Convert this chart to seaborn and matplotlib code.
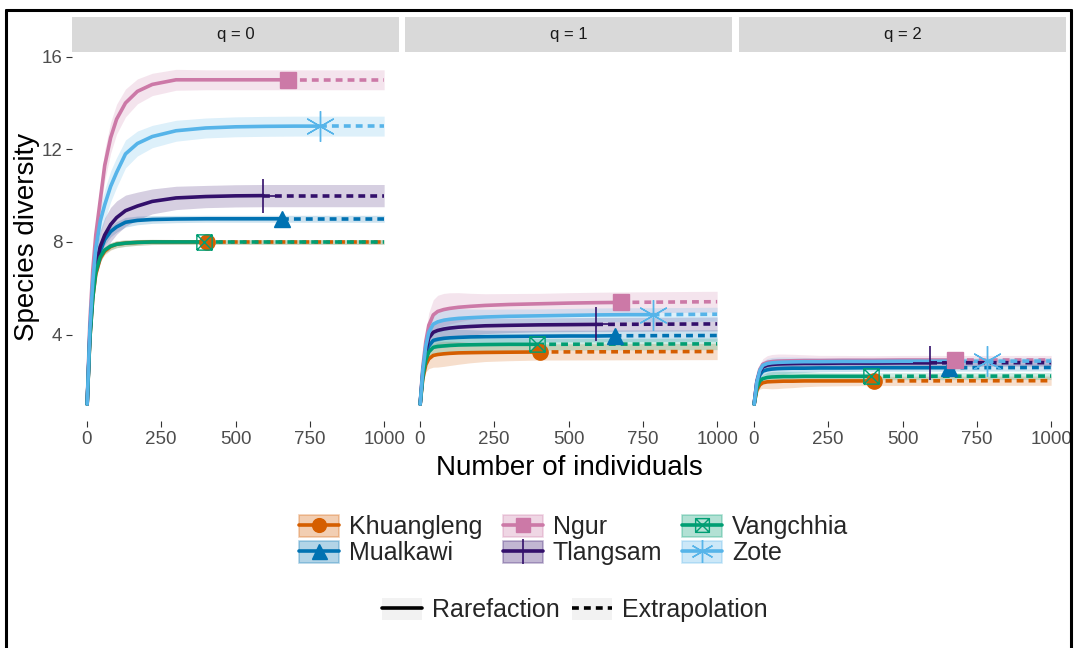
import matplotlib
matplotlib.use("Agg")
import numpy as np
import pandas as pd
import seaborn as sns
import matplotlib.pyplot as plt
from matplotlib.path import Path
from matplotlib.patches import Patch
from matplotlib.lines import Line2D
from matplotlib.legend_handler import HandlerTuple
from matplotlib import font_manager as fm

# ---------------------------------------------------------------- data
sites = ["Khuangleng", "Mualkawi", "Ngur", "Tlangsam", "Vangchhia", "Zote"]
colors = ["#D55E00", "#0072B2", "#CC79A7", "#33106B", "#009E73", "#56B4E9"]
obs_size = [403, 655, 675, 593, 395, 783]          # reference sample size
n_grid = [1, 10, 20, 30, 45, 60, 80, 100, 130, 170, 220, 300, 400, 500, 600, 700, 800]
n_max = 1000
q_levels = [0, 1, 2]

# rarefied diversity at n_grid points (below the reference sample size)
rare_q0 = {
    "Khuangleng": [1, 3.8, 5.6, 6.6, 7.3, 7.6, 7.8, 7.9, 7.95, 7.98, 8.0, 8.0, 8.0],
    "Mualkawi":   [1, 3.9, 5.8, 6.9, 7.6, 8.1, 8.45, 8.65, 8.85, 8.93, 8.97, 8.99, 9.0, 9.0, 9.0],
    "Ngur":       [1, 4.5, 6.8, 8.3, 9.8, 11.3, 12.5, 13.3, 14.0, 14.5, 14.8, 15.0, 15.0, 15.0, 15.0],
    "Tlangsam":   [1, 4.0, 5.9, 7.0, 7.8, 8.3, 8.75, 9.05, 9.35, 9.55, 9.75, 9.9, 9.96, 9.99],
    "Vangchhia":  [1, 3.8, 5.6, 6.7, 7.35, 7.65, 7.82, 7.9, 7.95, 7.98, 8.0, 8.0],
    "Zote":       [1, 4.2, 6.3, 7.7, 8.9, 9.6, 10.4, 11.0, 11.8, 12.25, 12.55, 12.8, 12.92, 12.97, 12.99, 13.0],
}
rare_q1 = {
    "Khuangleng": [1, 2.1, 2.7, 2.95, 3.1, 3.14, 3.17, 3.19, 3.21, 3.22, 3.23, 3.24, 3.25],
    "Mualkawi":   [1, 2.3, 3.1, 3.5, 3.75, 3.8, 3.84, 3.86, 3.88, 3.9, 3.91, 3.92, 3.93, 3.94, 3.94],
    "Ngur":       [1, 2.6, 3.7, 4.4, 4.85, 5.0, 5.08, 5.13, 5.18, 5.22, 5.26, 5.3, 5.33, 5.36, 5.38],
    "Tlangsam":   [1, 2.4, 3.3, 3.85, 4.1, 4.18, 4.24, 4.28, 4.32, 4.35, 4.38, 4.4, 4.42, 4.43],
    "Vangchhia":  [1, 2.2, 2.9, 3.25, 3.45, 3.49, 3.51, 3.53, 3.55, 3.56, 3.57, 3.58],
    "Zote":       [1, 2.5, 3.5, 4.1, 4.45, 4.55, 4.62, 4.66, 4.7, 4.73, 4.76, 4.79, 4.81, 4.83, 4.85, 4.86],
}
rare_q2 = {
    "Khuangleng": [1, 1.6, 1.83, 1.92, 1.96, 1.97, 1.98, 1.99, 1.99, 2.0, 2.0, 2.0, 2.0],
    "Mualkawi":   [1, 1.85, 2.25, 2.42, 2.48, 2.51, 2.53, 2.54, 2.55, 2.55, 2.56, 2.56, 2.57, 2.57, 2.57],
    "Ngur":       [1, 2.0, 2.5, 2.72, 2.8, 2.83, 2.85, 2.86, 2.87, 2.88, 2.88, 2.89, 2.89, 2.9, 2.9],
    "Tlangsam":   [1, 1.95, 2.4, 2.6, 2.68, 2.71, 2.73, 2.74, 2.75, 2.76, 2.76, 2.77, 2.77, 2.78],
    "Vangchhia":  [1, 1.7, 2.0, 2.1, 2.15, 2.17, 2.18, 2.19, 2.19, 2.2, 2.2, 2.2],
    "Zote":       [1, 1.95, 2.45, 2.67, 2.75, 2.78, 2.8, 2.81, 2.82, 2.83, 2.83, 2.84, 2.84, 2.85, 2.85, 2.85],
}
# observed diversity (at the reference sample size) and extrapolated value at n = 1000
obs_q0 = [8.0, 9.0, 15.0, 10.0, 8.0, 13.0]
end_q0 = [8.0, 9.0, 15.0, 10.0, 8.0, 13.0]
obs_q1 = [3.25, 3.95, 5.39, 4.44, 3.58, 4.86]
end_q1 = [3.27, 3.96, 5.42, 4.46, 3.60, 4.88]
obs_q2 = [2.0, 2.57, 2.9, 2.78, 2.2, 2.85]
end_q2 = [2.01, 2.58, 2.9, 2.79, 2.21, 2.86]

# half-width of the 95% confidence band once the curve levels off
hw_q0 = [0.10, 0.15, 0.43, 0.48, 0.10, 0.43]
hw_q1 = [0.35, 0.25, 0.45, 0.30, 0.25, 0.30]
hw_q2 = [0.20, 0.15, 0.20, 0.15, 0.15, 0.15]
# relative band width along n_grid (wider around the bend of the curve)
band_shape = [0, 0.5, 0.9, 1.2, 1.45, 1.55, 1.55, 1.5, 1.4, 1.25, 1.12, 1.05, 1.0, 1.0, 1.0, 1.0, 1.0]

rare_all = {0: rare_q0, 1: rare_q1, 2: rare_q2}
obs_all = {0: obs_q0, 1: obs_q1, 2: obs_q2}
end_all = {0: end_q0, 1: end_q1, 2: end_q2}
hw_all = {0: hw_q0, 1: hw_q1, 2: hw_q2}

rows = []
for q in q_levels:
    for i, s in enumerate(sites):
        vals = rare_all[q][s]
        hw = hw_all[q][i]
        for k, v in enumerate(vals):
            rows.append((q, s, n_grid[k], v, hw * band_shape[k], "Rarefaction"))
        rows.append((q, s, obs_size[i], obs_all[q][i], hw, "Rarefaction"))
        rows.append((q, s, obs_size[i], obs_all[q][i], hw, "Extrapolation"))
        rows.append((q, s, n_max, end_all[q][i], hw, "Extrapolation"))
df = pd.DataFrame(rows, columns=["q", "site", "n", "value", "hw", "method"])
df["lo"] = df["value"] - df["hw"]
df["hi"] = df["value"] + df["hw"]

# ---------------------------------------------------------------- style
sns.set_theme(style="white")
names = {f.name for f in fm.fontManager.ttflist}
narrow = "Liberation Sans Narrow" if "Liberation Sans Narrow" in names else "Liberation Sans"
plt.rcParams["font.family"] = ["Liberation Sans", "DejaVu Sans"]

W, H = 1076, 648
fig = plt.figure(figsize=(W / 100, H / 100), dpi=100)
fig.patch.set_facecolor("white")

def fx(px):
    return px / W

def fy(py):
    return 1 - py / H

# marker for Vangchhia: square with a cross
sq_x = Path([(-1, -1), (1, -1), (1, 1), (-1, 1), (-1, -1), (-1, -1), (1, 1), (1, -1), (-1, 1)],
            [Path.MOVETO, Path.LINETO, Path.LINETO, Path.LINETO, Path.LINETO,
             Path.MOVETO, Path.LINETO, Path.MOVETO, Path.LINETO])
marker_spec = {
    "Khuangleng": dict(marker="o", ms=11),
    "Mualkawi": dict(marker="^", ms=12),
    "Ngur": dict(marker="s", ms=11),
    "Tlangsam": dict(marker="+", ms=24, mew=1.2),
    "Vangchhia": dict(marker=sq_x, ms=11, mfc="none", mew=1.0),
    "Zote": dict(marker=(6, 2, 0), ms=22, mew=1.0),
}

panel_left = [72, 405, 739]
panel_w = 327
top_px, bot_px = 52, 421
strip_top = 17

lw = 2.6
for j, q in enumerate(q_levels):
    ax = fig.add_axes([fx(panel_left[j]), fy(bot_px), fx(panel_w), (bot_px - top_px) / H])
    sub = df[df["q"] == q]
    rare = sub[sub["method"] == "Rarefaction"]
    extra = sub[sub["method"] == "Extrapolation"]
    sns.lineplot(data=rare, x="n", y="value", hue="site", hue_order=sites, palette=colors,
                 estimator=None, sort=False, lw=lw, legend=False, ax=ax)
    k0 = len(ax.lines)
    sns.lineplot(data=extra, x="n", y="value", hue="site", hue_order=sites, palette=colors,
                 estimator=None, sort=False, lw=lw, legend=False, ax=ax)
    for ln in ax.lines[k0:]:
        ln.set_dashes((1.9, 1.4))
    for i, s in enumerate(sites):
        d = sub[sub["site"] == s].drop_duplicates("n")
        ax.fill_between(d["n"], d["lo"], d["hi"], color=colors[i], alpha=0.2, lw=0)
    for i, s in enumerate(sites):
        spec = dict(marker_spec[s])
        ax.plot([obs_size[i]], [obs_all[q][i]], linestyle="none", color=colors[i],
                mec=colors[i], **spec)
    ax.set_xlim(-50, 1050)
    ax.set_ylim(0.27, 16.2)
    ax.set_xticks([0, 250, 500, 750, 1000])
    ax.set_xticklabels(["0", "250", "500", "750", "1000"], fontfamily=narrow)
    ax.set_yticks([4, 8, 12, 16])
    ax.set_xlabel("")
    ax.set_ylabel("")
    ax.tick_params(axis="both", length=4, width=0.8, color="#333333", direction="out",
                   labelsize=13.5, labelcolor="#4D4D4D", pad=3, bottom=True, left=(j == 0))
    if j == 0:
        ax.set_yticklabels(["4", "8", "12", "16"], fontfamily=narrow)
    else:
        ax.set_yticklabels([])
    for sp in ax.spines.values():
        sp.set_visible(False)
    ax.set_facecolor("white")

    # facet strip
    sax = fig.add_axes([fx(panel_left[j]), fy(top_px), fx(panel_w), (top_px - strip_top) / H])
    sax.set_facecolor("#D9D9D9")
    sax.set_xticks([])
    sax.set_yticks([])
    for sp in sax.spines.values():
        sp.set_visible(False)
    sax.text(0.5, 0.5, f"q = {q}", ha="center", va="center", fontsize=12,
             color="#1A1A1A", fontfamily=narrow, transform=sax.transAxes)

fig.text(fx(27), fy(237), "Species diversity", rotation=90, ha="center", va="center",
         fontsize=20, color="black")
fig.text(fx(569), fy(468), "Number of individuals", ha="center", va="center",
         fontsize=20, color="black", fontfamily=narrow)

# site legend
handles = []
for i, s in enumerate(sites):
    spec = dict(marker_spec[s])
    spec["ms"] = spec["ms"] * (0.75 if s in ("Tlangsam", "Zote") else 0.9)
    handles.append((Patch(facecolor=colors[i], alpha=0.3, edgecolor=colors[i], lw=1.2),
                    Line2D([], [], color=colors[i], lw=lw, mec=colors[i], **spec)))
fig.legend(handles, sites, loc="center", bbox_to_anchor=(fx(574), fy(540)), ncol=3,
           frameon=False, fontsize=18, handlelength=1.6, handleheight=1.0,
           handletextpad=0.4, columnspacing=0.8, labelspacing=0.05,
           handler_map={tuple: HandlerTuple(ndivide=1, pad=0)})

# method legend
mhandles = [
    (Patch(facecolor="#F2F2F2", edgecolor="none"), Line2D([], [], color="black", lw=lw)),
    (Patch(facecolor="#F2F2F2", edgecolor="none"),
     Line2D([], [], color="black", lw=lw, dashes=(1.9, 1.4))),
]
fig.legend(mhandles, ["Rarefaction", "Extrapolation"], loc="center",
           bbox_to_anchor=(fx(575), fy(610)), ncol=2, frameon=False, fontsize=18,
           handlelength=1.6, handleheight=1.0, handletextpad=0.4, columnspacing=0.5,
           handler_map={tuple: HandlerTuple(ndivide=1, pad=0)})

# outer frame
for xs, ys in [((6, 6), (10, 660)), ((6, 1071), (10, 10)), ((1071, 1071), (10, 660))]:
    fig.add_artist(Line2D([fx(x) for x in xs], [fy(y) for y in ys], color="black", lw=2.2))

fig.savefig("out.png", dpi=100)
